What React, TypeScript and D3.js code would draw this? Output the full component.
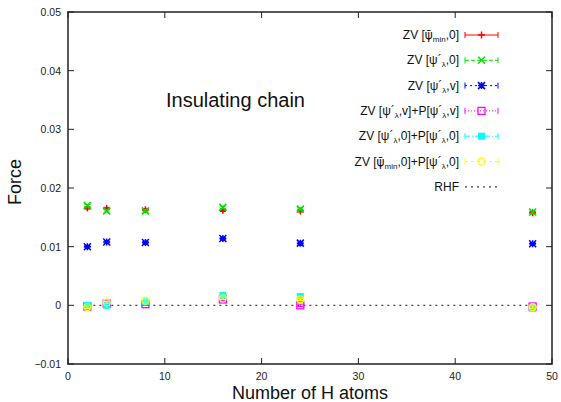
import React from "react";
import * as d3 from "d3";

const nAtoms = [2, 4, 8, 16, 24, 48];
const zvMin0 = [0.0166, 0.0165, 0.0163, 0.0162, 0.0161, 0.0158];
const zvLam0 = [0.0170, 0.0161, 0.0161, 0.0167, 0.0164, 0.0159];
const zvLamV = [0.0100, 0.0108, 0.0107, 0.0114, 0.0106, 0.0105];
const zvLamVP = [-0.0002, 0.0003, 0.0002, 0.0010, 0.0000, -0.0002];
const zvLam0P = [0.0000, 0.0000, 0.0006, 0.0017, 0.0015, -0.0005];
const zvMin0P = [-0.0003, 0.0005, 0.0008, 0.0012, 0.0010, -0.0003];
const rhf = [0, 0, 0, 0, 0, 0];
const errs = [0.0002, 0.0002, 0.0002, 0.0002, 0.0002, 0.0002];

const xTicks = [0, 10, 20, 30, 40, 50];
const yTicks = [-0.01, 0, 0.01, 0.02, 0.03, 0.04, 0.05];

type Marker = "plus" | "cross" | "star" | "osquare" | "fsquare" | "ocircle" | "none";
interface Series { key: string; values: number[]; color: string; marker: Marker; dash: string; label: React.ReactNode; caps: boolean; }

const W = 561, H = 402;
const L = 68, R = 552, T = 12, B = 364;
const FONT = "'Liberation Sans', Arial, sans-serif";

const Sub = ({ children }: { children: React.ReactNode }) => (
  <tspan fontSize={8} dy={3}>{children}</tspan>
);

const PsiBar = () => <tspan fontFamily="'DejaVu Sans'">{"\u03C8\u0304"}</tspan>;
const psiP = "\u03C8\u00B4";

function labelMin0() {
  return (<>ZV [<PsiBar /><Sub>min</Sub><tspan dy={-3}>,0]</tspan></>);
}
function labelLam(tail: string) {
  return (<>ZV [{psiP}<Sub>{"\u03BB"}</Sub><tspan dy={-3}>{tail}</tspan></>);
}
function labelLamP(a: string, b: string) {
  return (<>ZV [{psiP}<Sub>{"\u03BB"}</Sub><tspan dy={-3}>{a}+P[{psiP}</tspan><Sub>{"\u03BB"}</Sub><tspan dy={-3}>{b}</tspan></>);
}
function labelMinP() {
  return (<>ZV [<PsiBar /><Sub>min</Sub><tspan dy={-3}>,0]+P[{psiP}</tspan><Sub>{"\u03BB"}</Sub><tspan dy={-3}>,0]</tspan></>);
}

const series: Series[] = [
  { key: "zvMin0", values: zvMin0, color: "#ff0000", marker: "plus", dash: "", label: labelMin0(), caps: true },
  { key: "zvLam0", values: zvLam0, color: "#00e000", marker: "cross", dash: "4,2", label: labelLam(",0]"), caps: true },
  { key: "zvLamV", values: zvLamV, color: "#0000ff", marker: "star", dash: "2,3", label: labelLam(",v]"), caps: true },
  { key: "zvLamVP", values: zvLamVP, color: "#ff00ff", marker: "osquare", dash: "1,2", label: labelLamP(",v]", ",v]"), caps: true },
  { key: "zvLam0P", values: zvLam0P, color: "#00ffff", marker: "fsquare", dash: "5,2,1,2", label: labelLamP(",0]", ",0]"), caps: true },
  { key: "zvMin0P", values: zvMin0P, color: "#ffff00", marker: "ocircle", dash: "3,3", label: labelMinP(), caps: true },
];

function MarkerShape({ m, x, y, c }: { m: Marker; x: number; y: number; c: string }) {
  const s = 3.5;
  switch (m) {
    case "plus":
      return <path d={`M${x - s},${y}H${x + s}M${x},${y - s}V${y + s}`} stroke={c} strokeWidth={1.5} fill="none" />;
    case "cross":
      return <path d={`M${x - s},${y - s}L${x + s},${y + s}M${x - s},${y + s}L${x + s},${y - s}`} stroke={c} strokeWidth={1.5} fill="none" />;
    case "star":
      return <path d={`M${x - s},${y}H${x + s}M${x},${y - s}V${y + s}M${x - s},${y - s}L${x + s},${y + s}M${x - s},${y + s}L${x + s},${y - s}`} stroke={c} strokeWidth={1.5} fill="none" />;
    case "osquare":
      return <rect x={x - s} y={y - s} width={2 * s} height={2 * s} stroke={c} strokeWidth={1.3} fill="none" />;
    case "fsquare":
      return <rect x={x - s} y={y - s} width={2 * s} height={2 * s} fill={c} />;
    case "ocircle":
      return <circle cx={x} cy={y} r={s} stroke={c} strokeWidth={1.3} fill="none" />;
    default:
      return null;
  }
}

export default function App() {
  const x = d3.scaleLinear().domain([0, 50]).range([L, R]);
  const y = d3.scaleLinear().domain([-0.01, 0.05]).range([B, T]);
  const tick = 6;
  const legendTextX = 459;
  const legX0 = 465, legX1 = 498;
  const legY0 = 35, legDy = 25.3;

  return (
    <svg width={W} height={H} style={{ position: "absolute", left: 0, top: 0, background: "#fff" }} fontFamily={FONT}>
      <rect x={0} y={0} width={W} height={H} fill="#fff" />
      {/* RHF line */}
      <path d={d3.line<number>().x((_, i) => x(nAtoms[i])).y((v) => y(v))(rhf) || ""} stroke="#444" strokeWidth={1.2} strokeDasharray="2,4" fill="none" />
      {/* error bars + markers */}
      {series.map((s) => (
        <g key={s.key}>
          {s.values.map((v, i) => {
            const cx = x(nAtoms[i]);
            const y1 = y(v - errs[i]), y2 = y(v + errs[i]);
            return (
              <g key={i}>
                <path d={`M${cx},${y1}V${y2}M${cx - 3},${y1}H${cx + 3}M${cx - 3},${y2}H${cx + 3}`} stroke={s.color} strokeWidth={1} fill="none" />
                <MarkerShape m={s.marker} x={cx} y={y(v)} c={s.color} />
              </g>
            );
          })}
        </g>
      ))}
      {/* frame */}
      <rect x={L} y={T} width={R - L} height={B - T} fill="none" stroke="#222" strokeWidth={1.5} />
      {/* ticks */}
      {xTicks.map((t) => (
        <g key={"x" + t}>
          <line x1={x(t)} x2={x(t)} y1={B} y2={B - tick} stroke="#222" />
          <line x1={x(t)} x2={x(t)} y1={T} y2={T + tick} stroke="#222" />
          <text x={x(t)} y={380} fontSize={10.5} textAnchor="middle" fill="#222">{t}</text>
        </g>
      ))}
      {yTicks.map((t) => (
        <g key={"y" + t}>
          <line x1={L} x2={L + tick} y1={y(t)} y2={y(t)} stroke="#222" />
          <line x1={R} x2={R - tick} y1={y(t)} y2={y(t)} stroke="#222" />
          <text x={61} y={y(t) + 4} fontSize={10.5} textAnchor="end" fill="#222">{Math.abs(t) < 1e-9 ? "0" : d3.format(".2f")(t)}</text>
        </g>
      ))}
      {/* axis titles */}
      <text x={310} y={399} fontSize={18} textAnchor="middle" fill="#111">Number of H atoms</text>
      <text transform="translate(21,182) rotate(-90)" fontSize={18} textAnchor="middle" fill="#111">Force</text>
      <text x={166} y={107} fontSize={20} fill="#111">Insulating chain</text>
      {/* legend */}
      {series.map((s, i) => {
        const ly = legY0 + i * legDy;
        const mid = (legX0 + legX1) / 2;
        return (
          <g key={"leg" + s.key}>
            <text x={legendTextX} y={ly + 4} fontSize={12} textAnchor="end" fill="#111">{s.label}</text>
            <line x1={legX0} x2={legX1} y1={ly} y2={ly} stroke={s.color} strokeWidth={1} strokeDasharray={s.dash || undefined} />
            {s.caps && <path d={`M${legX0},${ly - 3}V${ly + 3}M${legX1},${ly - 3}V${ly + 3}`} stroke={s.color} strokeWidth={1} />}
            <MarkerShape m={s.marker} x={mid} y={ly} c={s.color} />
          </g>
        );
      })}
      <text x={legendTextX} y={legY0 + 6 * legDy + 4} fontSize={12} textAnchor="end" fill="#111">RHF</text>
      <line x1={legX0} x2={legX1} y1={legY0 + 6 * legDy} y2={legY0 + 6 * legDy} stroke="#444" strokeWidth={1.2} strokeDasharray="2,4" />
    </svg>
  );
}
